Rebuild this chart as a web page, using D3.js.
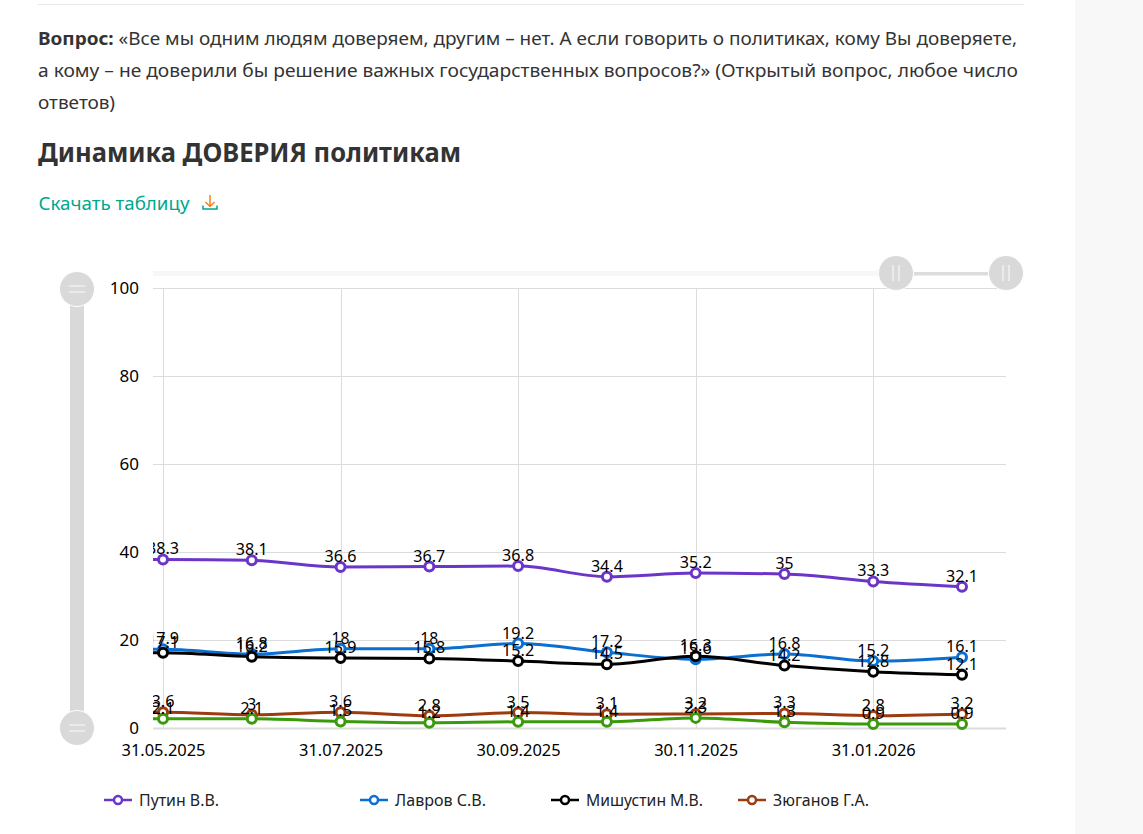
<!DOCTYPE html>
<html><head><meta charset="utf-8">
<script src="https://cdn.jsdelivr.net/npm/d3@7"></script>
<style>
html,body{margin:0;padding:0;background:#fff;overflow:hidden}
svg{display:block}
text{font-family:"Noto Sans","Open Sans",sans-serif}
</style></head><body>
<svg id="c" width="1143" height="834"></svg>
<script>
const dates=["31.05.2025","30.06.2025","31.07.2025","31.08.2025","30.09.2025","31.10.2025","30.11.2025","31.12.2025","31.01.2026","28.02.2026"];
const putin=[38.3,38.1,36.6,36.7,36.8,34.4,35.2,35,33.3,32.1];
const lavrov=[17.9,16.8,18,18,19.2,17.2,15.6,16.8,15.2,16.1];
const mishustin=[17.1,16.2,15.9,15.8,15.2,14.5,16.3,14.2,12.8,12.1];
const zyuganov=[3.6,3,3.6,2.8,3.5,3.1,3.2,3.3,2.8,3.2];
const fifth=[2.1,2.1,1.5,1.2,1.4,1.4,2.3,1.3,0.9,0.9];
const seriesNames=["Путин В.В.","Лавров С.В.","Мишустин М.В.","Зюганов Г.А."];
const seriesValues=[putin,lavrov,mishustin,zyuganov,fifth];
const seriesColors=["#6c35c9","#0a6fd1","#000000","#9c3a10","#3a9a0c"];
const yTicks=[0,20,40,60,80,100];
const xTicks=[0,2,4,6,8];

const svg=d3.select("#c");
svg.append("rect").attr("x",1075).attr("y",0).attr("width",68).attr("height",834).attr("fill","#f8f8f8");
svg.append("line").attr("x1",38).attr("x2",1024).attr("y1",4.5).attr("y2",4.5).attr("stroke","#e8e8e8");

function fit(t,w){t.attr("textLength",w).attr("lengthAdjust","spacingAndGlyphs");return t;}
const ink="#333333";
const q1=svg.append("text").attr("x",38).attr("y",44.5).attr("font-size",18).attr("fill",ink);
q1.append("tspan").attr("font-weight",700).text("Вопрос:");
q1.append("tspan").text(" «Все мы одним людям доверяем, другим – нет. А если говорить о политиках, кому Вы доверяете,");
fit(q1,979);
fit(svg.append("text").attr("x",38).attr("y",76.5).attr("font-size",18).attr("fill",ink).text("а кому – не доверили бы решение важных государственных вопросов?» (Открытый вопрос, любое число"),980);
fit(svg.append("text").attr("x",38).attr("y",108.5).attr("font-size",18).attr("fill",ink).text("ответов)"),77);
fit(svg.append("text").attr("x",38).attr("y",162).attr("font-size",27).attr("font-weight",700).attr("fill",ink).text("Динамика ДОВЕРИЯ политикам"),423);
fit(svg.append("text").attr("x",38.5).attr("y",209.5).attr("font-size",18).attr("fill","#00a78e").text("Скачать таблицу"),151);
// download icon
const ic=svg.append("g").attr("fill","none").attr("stroke-width",1.5);
ic.append("path").attr("d","M210 195V206M205.5 202L210 206.5L214.5 202").attr("stroke","#f58220");
ic.append("path").attr("d","M203 205.5V209H217V205.5").attr("stroke","#00a78e");

const x=d3.scaleLinear().domain([0,9]).range([163,962]);
const y=d3.scaleLinear().domain([0,100]).range([728,288]);
const left=153,right=1006;

// sliders
const sg="#d9d9d9";
svg.append("rect").attr("x",left).attr("y",271).attr("width",730).attr("height",5).attr("fill","#f7f7f7");
svg.append("rect").attr("x",912).attr("y",272).attr("width",78).attr("height",3.5).attr("fill","#dcdcdc");
svg.append("rect").attr("x",70).attr("y",300).attr("width",14).attr("height",415).attr("fill",sg);
function handle(cx,cy,vertical){
  const g=svg.append("g");
  g.append("circle").attr("cx",cx).attr("cy",cy).attr("r",17.5).attr("fill",sg).attr("stroke","#fff").attr("stroke-width",1);
  [-3,3].forEach(d=>{
    if(vertical) g.append("line").attr("x1",cx-8).attr("x2",cx+8).attr("y1",cy+d).attr("y2",cy+d).attr("stroke","#efefef").attr("stroke-width",1.5);
    else g.append("line").attr("y1",cy-8).attr("y2",cy+8).attr("x1",cx+d).attr("x2",cx+d).attr("stroke","#efefef").attr("stroke-width",1.5);
  });
}

// grid
const gridG=svg.append("g").attr("stroke","#dcdcdc");
gridG.selectAll("line.h").data(yTicks).join("line").attr("x1",left).attr("x2",right)
  .attr("y1",d=>y(d)+.5).attr("y2",d=>y(d)+.5).attr("stroke-width",d=>d===0?2:1);
gridG.selectAll("line.v").data(xTicks).join("line").attr("y1",y(100)).attr("y2",y(0))
  .attr("x1",d=>Math.round(x(d))+.5).attr("x2",d=>Math.round(x(d))+.5);

// axes
const yAxis=svg.append("g").attr("transform",`translate(139,0)`)
  .call(d3.axisLeft(y).tickValues(yTicks).tickSize(0).tickPadding(0));
const xAxis=svg.append("g").attr("transform",`translate(0,728)`)
  .call(d3.axisBottom(x).tickValues(xTicks).tickFormat(i=>dates[i]).tickSize(0).tickPadding(16));
[yAxis,xAxis].forEach(a=>{a.select(".domain").remove();
  a.selectAll("text").attr("font-size",17).attr("fill","#000").style("font-family",'"Noto Sans",sans-serif');});
xAxis.selectAll("text").each(function(){fit(d3.select(this),84);});

svg.append("clipPath").attr("id","plot").append("rect").attr("x",left).attr("y",250).attr("width",right-left).attr("height",490);
const plot=svg.append("g").attr("clip-path","url(#plot)");
const line=d3.line().x(d=>x(d[0])).y(d=>y(d[1])).curve(d3.curveMonotoneX);
seriesValues.forEach((vals,s)=>{
  // the visible window begins slightly before the first point, so the line runs on to the clip edge
  const pts=[[-1,vals[0]]].concat(vals.map((v,i)=>[i,v]));
  plot.append("path").attr("d",line(pts)).attr("fill","none").attr("stroke",seriesColors[s]).attr("stroke-width",3);
});
seriesValues.forEach((vals,s)=>{
  plot.selectAll(null).data(vals).join("circle").attr("cx",(d,i)=>x(i)).attr("cy",d=>y(d)).attr("r",4.5)
    .attr("fill","#fff").attr("stroke",seriesColors[s]).attr("stroke-width",3);
});
const labelWidth=d=>{const s=String(d);return s.replace(".","").length*9+(s.includes(".")?5:0);};
seriesValues.forEach((vals)=>{
  plot.selectAll(null).data(vals).join("text").attr("x",(d,i)=>x(i)).attr("y",d=>y(d)-5).attr("text-anchor","middle")
    .attr("font-size",17).attr("fill","#000").attr("textLength",labelWidth).attr("lengthAdjust","spacingAndGlyphs").text(d=>d);
});
handle(896,273,false);handle(1006,273,false);handle(77,289,true);handle(77,728,true);

// legend
const legendX=[104,360,551,738];
seriesNames.forEach((n,i)=>{
  const g=svg.append("g").attr("transform",`translate(${legendX[i]},800)`);
  g.append("line").attr("x1",0).attr("x2",28).attr("stroke",seriesColors[i]).attr("stroke-width",2.5);
  g.append("circle").attr("cx",14).attr("r",4).attr("fill","#fff").attr("stroke",seriesColors[i]).attr("stroke-width",2.5);
  const t=g.append("text").attr("x",35).attr("y",6).attr("font-size",17).attr("fill","#222").text(n);
  fit(t,[80,91,117,96][i]);
});
</script></body></html>
